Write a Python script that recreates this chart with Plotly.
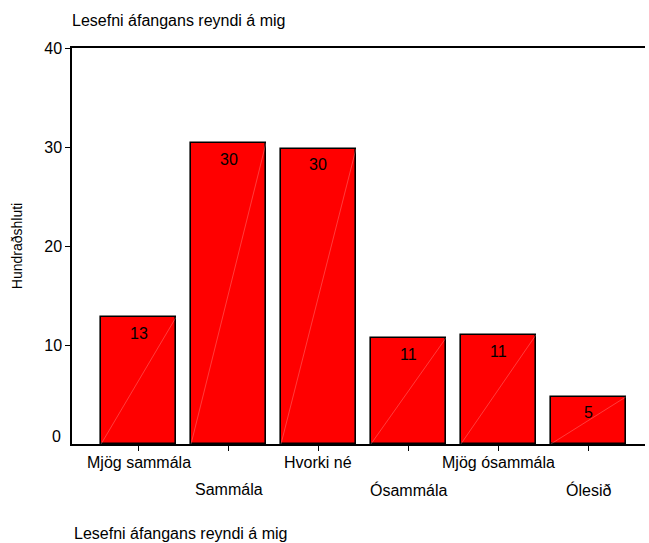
import plotly.graph_objects as go

categories = ["Mjög sammála", "Sammála", "Hvorki né", "Ósammála", "Mjög ósammála", "Ólesið"]
percent = [12.8, 30.4, 29.8, 10.7, 11.0, 4.75]
labels = ["13", "30", "30", "11", "11", "5"]
title_text = "Lesefni áfangans reyndi á mig"
y_title = "Hundraðshluti"
y_ticks = [10, 20, 30, 40]
y_zero_label = "0"

FONT = "Liberation Sans, Arial, sans-serif"
BAR_W = 0.833
idx = list(range(len(categories)))

fig = go.Figure()
fig.add_trace(go.Bar(
    x=idx, y=percent, width=BAR_W,
    marker=dict(color="#ff0000", line=dict(color="black", width=1.6)),
    showlegend=False, hoverinfo="skip",
))

# faint diagonal artifacts inside each bar (bottom-left to top-right)
dx, dy = [], []
for i, v in zip(idx, percent):
    dx += [i - BAR_W / 2, i + BAR_W / 2, None]
    dy += [0, v, None]
fig.add_trace(go.Scatter(x=dx, y=dy, mode="lines",
                         line=dict(color="rgba(255,220,220,0.55)", width=0.5),
                         showlegend=False, hoverinfo="skip"))

annotations = []
for i, v, t in zip(idx, percent, labels):
    annotations.append(dict(
        x=i, y=v, xref="x", yref="y", text=t, showarrow=False,
        yanchor="middle", xanchor="center", yshift=-16,
        font=dict(family=FONT, size=16, color="black"),
    ))
for i, c in zip(idx, categories):
    annotations.append(dict(
        x=i, y=0, xref="x", yref="y", text=c, showarrow=False,
        yanchor="top", xanchor="center",
        yshift=-8 if i % 2 == 0 else -35,
        font=dict(family=FONT, size=16, color="black"),
    ))
# zero label sits slightly above the baseline in the original
annotations.append(dict(
    x=0, y=0, xref="paper", yref="y", text=y_zero_label, showarrow=False,
    xanchor="right", yanchor="middle", xshift=-9, yshift=8,
    font=dict(family=FONT, size=16, color="black"),
))
annotations.append(dict(
    x=0, y=0, xref="paper", yref="paper", text=title_text, showarrow=False,
    xanchor="left", yanchor="middle", yshift=-89,
    font=dict(family=FONT, size=16, color="black"),
))

fig.update_layout(
    width=649, height=543,
    margin=dict(l=72, r=4, t=48, b=99),
    plot_bgcolor="white", paper_bgcolor="white",
    font=dict(family=FONT, size=16, color="black"),
    title=dict(text=title_text, x=72 / 649, xanchor="left", y=1 - 20 / 543, yanchor="middle",
               font=dict(family=FONT, size=16, color="black")),
    xaxis=dict(range=[-0.74, 5.63], tickvals=idx, ticktext=[""] * len(idx),
               ticks="outside", ticklen=5, tickcolor="black",
               showline=True, linecolor="black", linewidth=1.5, mirror=True,
               showgrid=False, zeroline=False, fixedrange=True),
    yaxis=dict(range=[0, 40], tickvals=y_ticks, ticks="outside", ticklen=5, tickcolor="black",
               showline=True, linecolor="black", linewidth=1.5,
               showgrid=False, zeroline=False,
               title=dict(text=y_title, font=dict(family=FONT, size=14), standoff=18),
               tickfont=dict(family=FONT, size=16)),
    annotations=annotations,
    bargap=0,
)

fig.write_html("out.html", config={"displayModeBar": False},
               post_script="document.body.style.margin='0';")
